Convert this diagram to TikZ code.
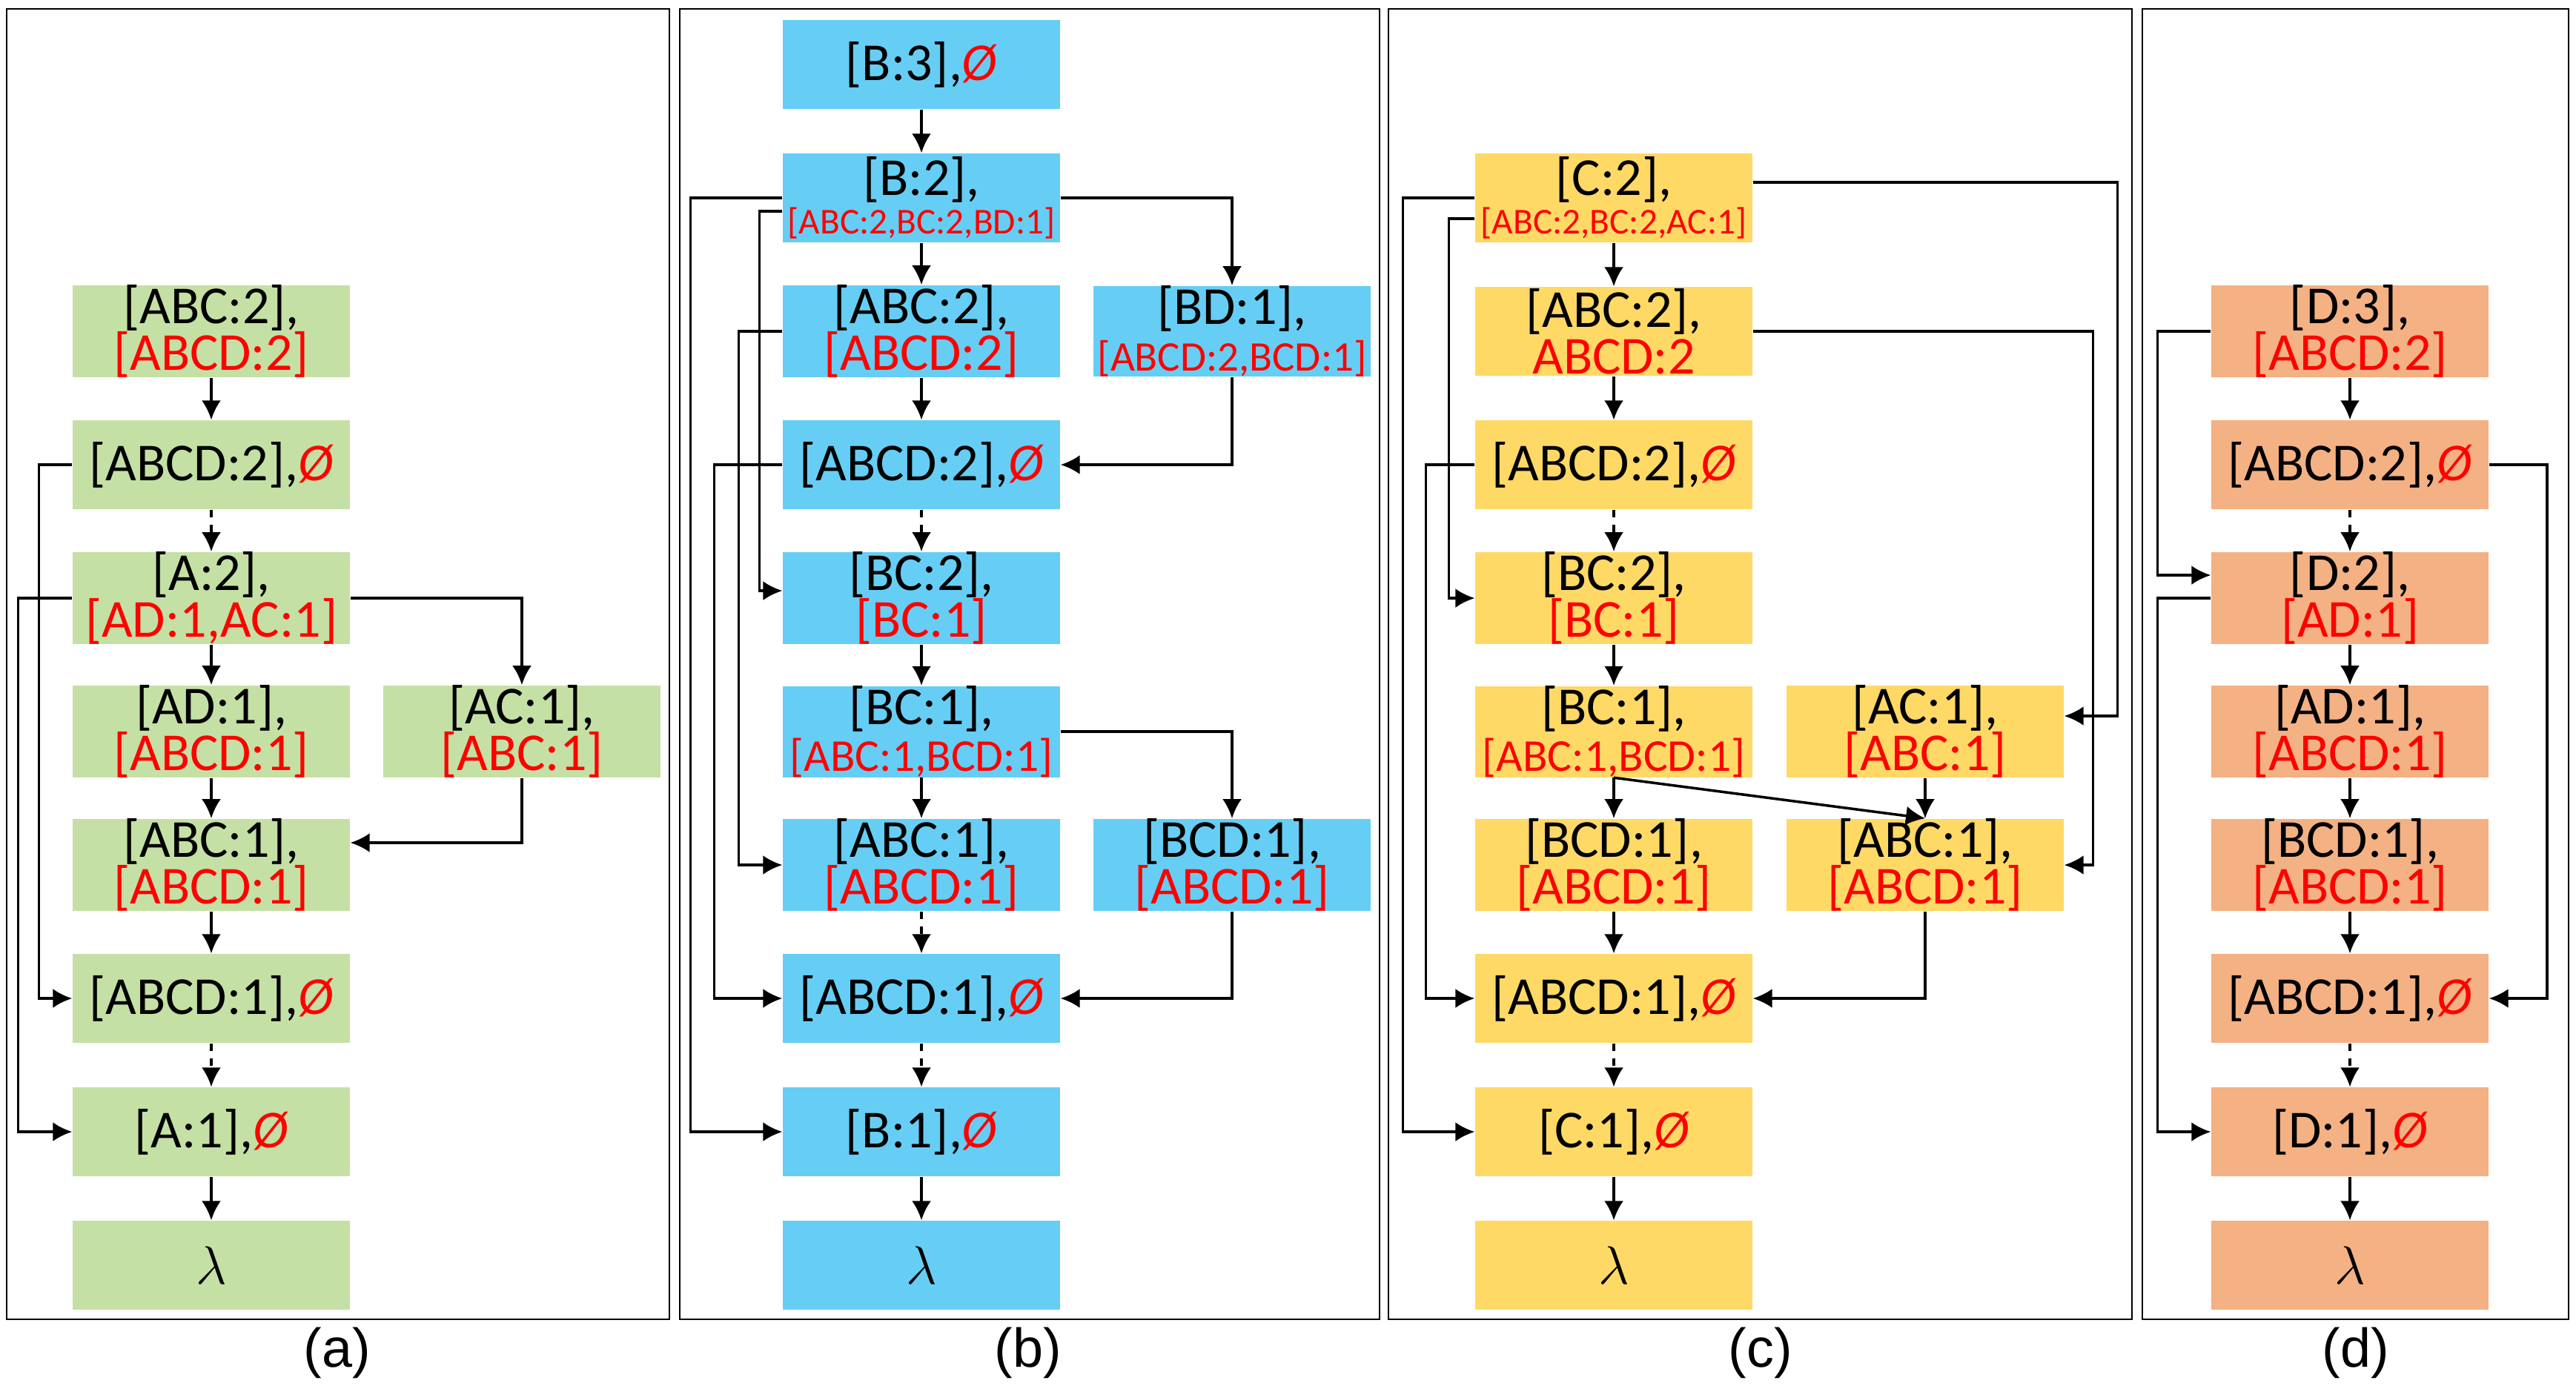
\documentclass[tikz,border=0pt]{standalone}
\usepackage{fontspec}
\setmainfont{Carlito}
\newfontfamily\labelfont{Liberation Sans}
\usepackage{tikz}
\usetikzlibrary{arrows.meta}
\definecolor{boxgreen}{HTML}{C5E0A5}
\definecolor{boxblue}{HTML}{66CEF5}
\definecolor{boxyellow}{HTML}{FFD966}
\definecolor{boxorange}{HTML}{F4B183}
\newcommand{\bigtxt}{\fontsize{20.5}{17.8}\selectfont\lineskiplimit=-30pt}
\newcommand{\smalltxt}{\fontsize{14}{14}\selectfont}
\newcommand{\midtxt}{\fontsize{16.2}{16}\selectfont}
\newcommand{\medtxt}{\fontsize{17.5}{17}\selectfont}
\newcommand{\rd}[1]{{\color{red}#1}}
\newcommand{\emp}{\textcolor{red}{\itshape Ø}}
\tikzset{
    state/.style={minimum width=3.74cm, minimum height=1.2cm, inner sep=0pt, align=center, font=\bigtxt},
    gbox/.style={state, fill=boxgreen},
    bbox/.style={state, fill=boxblue},
    ybox/.style={state, fill=boxyellow},
    obox/.style={state, fill=boxorange},
    arr/.style={-{Latex[length=0.26cm,width=0.26cm]}, line width=1pt},
    dasharr/.style={arr, dash pattern=on 0.1cm off 0.1cm},
    frame/.style={line width=0.6pt},
    lbl/.style={font=\labelfont\fontsize{21}{21}\selectfont}
}

\begin{document}
\begin{tikzpicture}
\useasboundingbox (0,0) rectangle (34.75,-18.69);

%frames
\draw[frame] (0.09,-0.12) rectangle (9.03,-17.80);
\draw[frame] (9.17,-0.12) rectangle (18.61,-17.80);
\draw[frame] (18.73,-0.12) rectangle (28.76,-17.80);
\draw[frame] (28.90,-0.12) rectangle (34.65,-17.80);
\node[lbl] (la) at (4.55,-18.25) {(a)};
\node[lbl] (lb) at (13.87,-18.25) {(b)};
\node[lbl] (lc) at (23.75,-18.25) {(c)};
\node[lbl] (ld) at (31.78,-18.25) {(d)};

%a
\node[gbox] (a2) at (2.85,-4.47) {[ABC:2],\\\rd{[ABCD:2]}};
\node[gbox] (a3) at (2.85,-6.27) {[ABCD:2],\emp};
\node[gbox] (a4) at (2.85,-8.07) {[A:2],\\\rd{[AD:1,AC:1]}};
\node[gbox] (a5) at (2.85,-9.87) {[AD:1],\\\rd{[ABCD:1]}};
\node[gbox] (ac) at (7.04,-9.87) {[AC:1],\\\rd{[ABC:1]}};
\node[gbox] (a6) at (2.85,-11.67) {[ABC:1],\\\rd{[ABCD:1]}};
\node[gbox] (a7) at (2.85,-13.47) {[ABCD:1],\emp};
\node[gbox] (a8) at (2.85,-15.27) {[A:1],\emp};
\node[gbox] (a9) at (2.85,-17.07) {$\lambda$};

\draw[arr] (a2.south) -- (a3.north);
\draw[dasharr] (a3.south) -- (a4.north);
\draw[arr] (a4.south) -- (a5.north);
\draw[arr] (a5.south) -- (a6.north);
\draw[arr] (a6.south) -- (a7.north);
\draw[dasharr] (a7.south) -- (a8.north);
\draw[arr] (a8.south) -- (a9.north);
\draw[arr] (a3.west) -- ++(-0.45,0) |- (a7.west);
\draw[arr] (a4.west) -- ++(-0.73,0) |- (a8.west);
\draw[arr] (a4.east) -| (ac.north);
\draw[arr] (ac.south) |- ([yshift=0.3cm]a6.east);

%b
\node[bbox] (b0) at (12.43,-0.87) {[B:3],\emp};
\node[bbox] (b1) at (12.43,-2.67) {[B:2],\\[-3pt]\rd{\smalltxt[ABC:2,BC:2,BD:1]}};
\node[bbox] (b2) at (12.43,-4.47) {[ABC:2],\\\rd{[ABCD:2]}};
\node[bbox] (bd) at (16.62,-4.47) {[BD:1],\\\rd{\midtxt[ABCD:2,BCD:1]}};
\node[bbox] (b3) at (12.43,-6.27) {[ABCD:2],\emp};
\node[bbox] (b4) at (12.43,-8.07) {[BC:2],\\\rd{[BC:1]}};
\node[bbox] (b5) at (12.43,-9.87) {[BC:1],\\\rd{\medtxt[ABC:1,BCD:1]}};
\node[bbox] (b6) at (12.43,-11.67) {[ABC:1],\\\rd{[ABCD:1]}};
\node[bbox] (bcd) at (16.62,-11.67) {[BCD:1],\\\rd{[ABCD:1]}};
\node[bbox] (b7) at (12.43,-13.47) {[ABCD:1],\emp};
\node[bbox] (b8) at (12.43,-15.27) {[B:1],\emp};
\node[bbox] (b9) at (12.43,-17.07) {$\lambda$};

\draw[arr] (b0.south) -- (b1.north);
\draw[arr] (b1.south) -- (b2.north);
\draw[arr] (b2.south) -- (b3.north);
\draw[dasharr] (b3.south) -- (b4.north);
\draw[arr] (b4.south) -- (b5.north);
\draw[arr] (b5.south) -- (b6.north);
\draw[dasharr] (b6.south) -- (b7.north);
\draw[dasharr] (b7.south) -- (b8.north);
\draw[arr] (b8.south) -- (b9.north);
\draw[arr] (b1.west) -- ++(-1.24,0) |- (b8.west);
\draw[arr] ([yshift=-0.18cm]b1.west) -- ++(-0.31,0) |- ([yshift=0.1cm]b4.west);
\draw[arr] (b2.west) -- ++(-0.59,0) |- (b6.west);
\draw[arr] (b3.west) -- ++(-0.92,0) |- (b7.west);
\draw[arr] (b1.east) -| (bd.north);
\draw[arr] (bd.south) |- (b3.east);
\draw[arr] (b5.east) -| (bcd.north);
\draw[arr] (bcd.south) |- (b7.east);

%c
\node[ybox] (c1) at (21.77,-2.67) {[C:2],\\[-3pt]\rd{\smalltxt[ABC:2,BC:2,AC:1]}};
\node[ybox] (c2) at (21.77,-4.47) {[ABC:2],\\\rd{ABCD:2}};
\node[ybox] (c3) at (21.77,-6.27) {[ABCD:2],\emp};
\node[ybox] (c4) at (21.77,-8.07) {[BC:2],\\\rd{[BC:1]}};
\node[ybox] (c5) at (21.77,-9.87) {[BC:1],\\\rd{\medtxt[ABC:1,BCD:1]}};
\node[ybox] (cac) at (25.97,-9.87) {[AC:1],\\\rd{[ABC:1]}};
\node[ybox] (c6) at (21.77,-11.67) {[BCD:1],\\\rd{[ABCD:1]}};
\node[ybox] (cabc) at (25.97,-11.67) {[ABC:1],\\\rd{[ABCD:1]}};
\node[ybox] (c7) at (21.77,-13.47) {[ABCD:1],\emp};
\node[ybox] (c8) at (21.77,-15.27) {[C:1],\emp};
\node[ybox] (c9) at (21.77,-17.07) {$\lambda$};

\draw[arr] (c1.south) -- (c2.north);
\draw[arr] (c2.south) -- (c3.north);
\draw[dasharr] (c3.south) -- (c4.north);
\draw[arr] (c4.south) -- (c5.north);
\draw[arr] (c5.south) -- (c6.north);
\draw[arr] (c5.south) -- (cabc.north);
\draw[arr] (cac.south) -- (cabc.north);
\draw[arr] (c6.south) -- (c7.north);
\draw[dasharr] (c7.south) -- (c8.north);
\draw[arr] (c8.south) -- (c9.north);
\draw[arr] (c1.west) -- ++(-0.97,0) |- (c8.west);
\draw[arr] ([yshift=-0.28cm]c1.west) -- ++(-0.35,0) |- (c4.west);
\draw[arr] (c3.west) -- ++(-0.66,0) |- (c7.west);
\draw[arr] ([yshift=0.21cm]c1.east) -- ++(4.92,0) |- ([yshift=0.21cm]cac.east);
\draw[arr] (c2.east) -- ++(4.59,0) |- (cabc.east);
\draw[arr] (cabc.south) |- (c7.east);

%d
\node[obox] (d2) at (31.70,-4.47) {[D:3],\\\rd{[ABCD:2]}};
\node[obox] (d3) at (31.70,-6.27) {[ABCD:2],\emp};
\node[obox] (d4) at (31.70,-8.07) {[D:2],\\\rd{[AD:1]}};
\node[obox] (d5) at (31.70,-9.87) {[AD:1],\\\rd{[ABCD:1]}};
\node[obox] (d6) at (31.70,-11.67) {[BCD:1],\\\rd{[ABCD:1]}};
\node[obox] (d7) at (31.70,-13.47) {[ABCD:1],\emp};
\node[obox] (d8) at (31.70,-15.27) {[D:1],\emp};
\node[obox] (d9) at (31.70,-17.07) {$\lambda$};

\draw[arr] (d2.south) -- (d3.north);
\draw[dasharr] (d3.south) -- (d4.north);
\draw[arr] (d4.south) -- (d5.north);
\draw[arr] (d5.south) -- (d6.north);
\draw[arr] (d6.south) -- (d7.north);
\draw[dasharr] (d7.south) -- (d8.north);
\draw[arr] (d8.south) -- (d9.north);
\draw[arr] (d2.west) -- ++(-0.72,0) |- ([yshift=0.31cm]d4.west);
\draw[arr] (d4.west) -- ++(-0.72,0) |- (d8.west);
\draw[arr] (d3.east) -- ++(0.78,0) |- (d7.east);

\end{tikzpicture}
\end{document}
